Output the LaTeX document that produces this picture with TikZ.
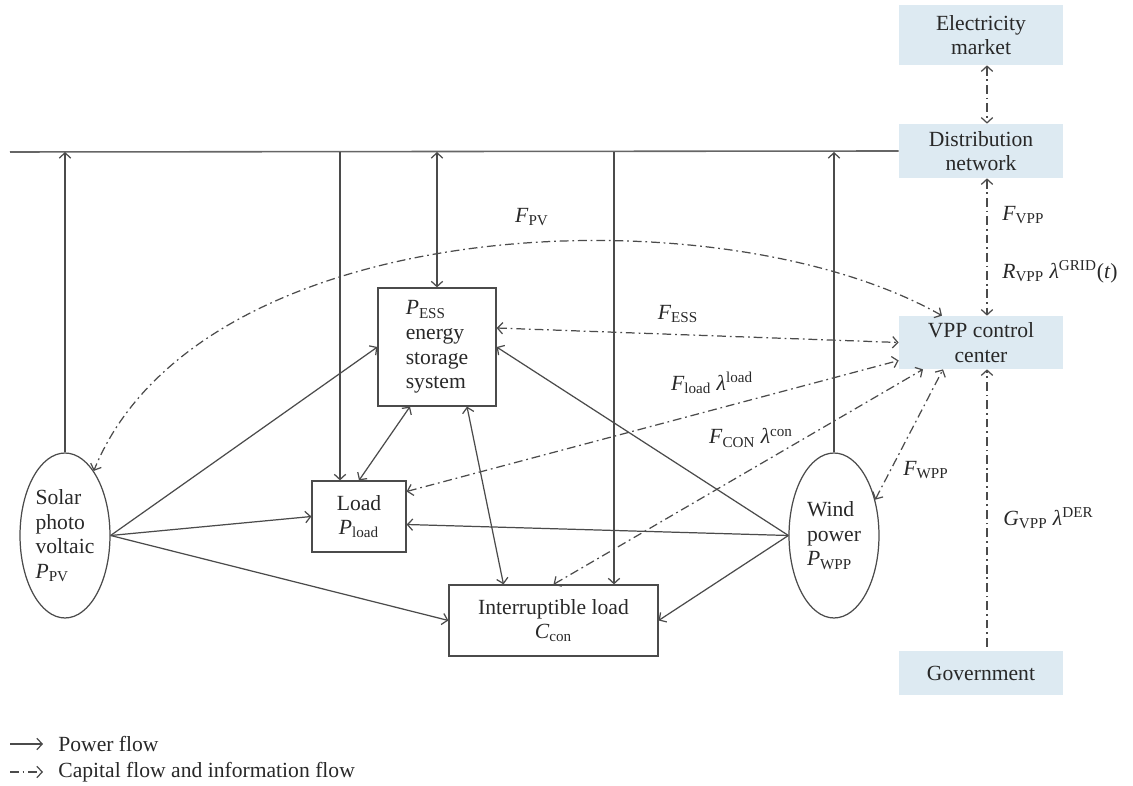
\documentclass[tikz,border=0pt]{standalone}
\usepackage{fontspec}
\setmainfont{Liberation Serif}
\usetikzlibrary{arrows.meta,shapes.geometric,calc}
\definecolor{boxblue}{RGB}{221,234,242}
\definecolor{ln}{RGB}{75,75,75}
\definecolor{txt}{RGB}{40,40,40}
\newcommand\vv[2]{\textit{#1}\textsubscript{#2}}
\begin{document}
\begin{tikzpicture}[x=0.02cm,y=-0.02cm,
  font=\fontsize{12.3}{14}\selectfont, text=txt,
  tip/.tip={Straight Barb[length=3pt,width=6.5pt]},
  pw/.style={draw=ln, line width=0.7pt, -tip},
  pwb/.style={draw=ln, line width=0.7pt, tip-tip},
  cf/.style={draw=ln, line width=0.7pt, dash pattern=on 5pt off 2.2pt on 1pt off 2.2pt, -tip},
  cfb/.style={draw=ln, line width=0.7pt, dash pattern=on 5pt off 2.2pt on 1pt off 2.2pt, tip-tip},
  bb/.style={fill=boxblue, minimum width=3.28cm, align=center, inner sep=0pt},
  bx/.style={draw=ln, line width=0.7pt, align=center, inner sep=0pt},
  el/.style={draw=ln, line width=0.7pt, ellipse, minimum width=1.8cm, minimum height=3.3cm, inner sep=0pt, align=left},
  lab/.style={inner sep=0pt}
]
\useasboundingbox (0,0) rectangle (1133,786);

% right column boxes
\node[bb, minimum height=1.2cm] (em) at (981,35) {Electricity\\market};
\node[bb, minimum height=1.08cm] (dn) at (981,151) {Distribution\\network};
\node[bb, minimum height=1.06cm] (vpp) at (981,342.5) {VPP control\\center};
\node[bb, minimum height=0.88cm] (gov) at (981,673) {Government};

% main nodes
\node[bx, minimum width=2.36cm, minimum height=2.36cm, align=left] (ess) at (437,347) {\vv{P}{ESS}\\energy\\storage\\system};
\node[bx, minimum width=1.88cm, minimum height=1.42cm] (load) at (359,516.5) {Load\\\vv{P}{load}};
\node[bx, minimum width=4.18cm, minimum height=1.42cm] (il) at (553.5,620.5) {Interruptible load\\\vv{C}{con}};
\node[el] (solar) at (65,535.5) {Solar\\photo\\voltaic\\\vv{P}{PV}};
\node[el] (wind) at (834,535.5) {Wind\\power\\\vv{P}{WPP}};

% bus
\coordinate (busL) at (10,152);
\draw[draw=ln!85, line width=0.9pt] (busL) -- (dn.west);

% helper coordinates
\coordinate (ldin) at ($(load.north)+(-19,0)$);
\coordinate (ilin) at ($(il.north)+(60.5,0)$);
\coordinate (essb1) at ($(ess.south)+(-27,0)$);
\coordinate (essb2) at ($(ess.south)+(30,0)$);
\coordinate (ilt) at ($(il.north)+(-50,0)$);
\coordinate (loadr) at ($(load.east)+(0,8)$);
\coordinate (essr) at ($(ess.east)+(0,-19)$);
\coordinate (loadr2) at ($(load.east)+(0,-25)$);
\coordinate (vppw2) at ($(vpp.west)+(0,18)$);
\coordinate (vppn1) at ($(vpp.north)+(-39,0)$);
\coordinate (vppn2) at ($(vpp.north)+(6,0)$);
\coordinate (vpps1) at ($(vpp.south)+(-58,0)$);
\coordinate (vpps2) at ($(vpp.south)+(-38,0)$);
\coordinate (vpps3) at ($(vpp.south)+(6,0)$);
\coordinate (dns) at ($(dn.south)+(6,0)$);
\coordinate (dnn) at ($(dn.north)+(6,0)$);
\coordinate (ems) at ($(em.south)+(6,0)$);
\coordinate (govn) at ($(gov.north)+(6,-4)$);

% power flows with bus
\draw[pw] (solar.north) -- (solar.north |- busL);
\draw[pw] (ldin |- busL) -- (ldin);
\draw[pwb] (ess.north |- busL) -- (ess.north);
\draw[pw] (ilin |- busL) -- (ilin);
\draw[pw] (wind.north) -- (wind.north |- busL);

% power flows from sources
\draw[pw] (solar.east) -- (ess.west);
\draw[pw] (solar.east) -- (load.west);
\draw[pw] (solar.east) -- (il.west);
\draw[pw] (wind.west) -- (ess.east);
\draw[pw] (wind.west) -- (loadr);
\draw[pw] (wind.west) -- (il.east);
\draw[pwb] (essb1) -- (load.north);
\draw[pwb] (essb2) -- (ilt);

% capital / information flows
\draw[cfb] (vppn1) .. controls (720,190) and (200,210) .. (solar.66);
\draw[cfb] (essr) -- (vpp.west);
\draw[cfb] (loadr2) -- (vppw2);
\draw[cfb] (il.north) -- (vpps1);
\draw[cfb] (wind.41) -- (vpps2);
\draw[cfb] (ems) -- (dnn);
\draw[cfb] (dns) -- (vppn2);
\draw[cf] (govn) -- (vpps3);

% labels
\node[lab] (lpv) at (532,217) {\vv{F}{PV}};
\node[lab] (less) at (678,314) {\vv{F}{ESS}};
\node[lab] (lload) at (712,383) {\vv{F}{load} \textit{λ}\textsuperscript{load}};
\node[lab] (lcon) at (751,438) {\vv{F}{CON} \textit{λ}\textsuperscript{con}};
\node[lab] (lwpp) at (926,470) {\vv{F}{WPP}};
\node[lab, anchor=west] (lfvpp) at (1002,215) {\vv{F}{VPP}};
\node[lab, anchor=west] (lrvpp) at (1002,272) {\vv{R}{VPP} \textit{λ}\textsuperscript{GRID}(\textit{t})};
\node[lab, anchor=west] (lgvpp) at (1003,518) {\vv{G}{VPP} \textit{λ}\textsuperscript{DER}};

% legend
\coordinate (lg1a) at (10,744);
\coordinate (lg1b) at (43,744);
\coordinate (lg2a) at (10,772);
\coordinate (lg2b) at (43,772);
\draw[pw] (lg1a) -- (lg1b);
\draw[cf] (lg2a) -- (lg2b);
\node[lab, anchor=west] (lgt1) at (58,744) {Power flow};
\node[lab, anchor=west] (lgt2) at (58,772) {Capital flow and information flow};
\end{tikzpicture}
\end{document}
